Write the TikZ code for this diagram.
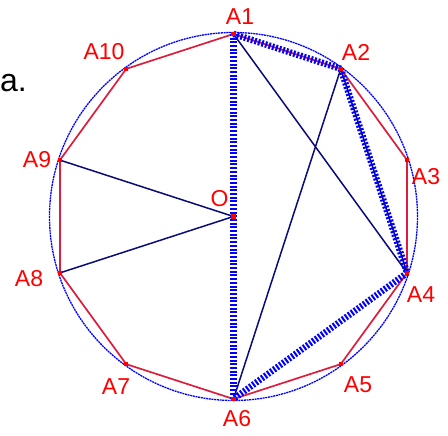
\documentclass[tikz,border=0pt]{standalone}
\usepackage{fontspec}
\setmainfont{Liberation Sans}
\usetikzlibrary{calc}
\definecolor{crim}{RGB}{220,30,60}
\definecolor{navyline}{RGB}{10,10,120}
\tikzstyle{circ} = [blue, line width=1.3pt, dash pattern=on 2pt off 0.7pt]
\tikzstyle{side} = [crim, line width=1.7pt]
\tikzstyle{chord} = [navyline, line width=1.5pt]
\tikzstyle{hatch} = [blue, line width=6.5pt, dash pattern=on 2pt off 1.7pt]
\tikzstyle{vert} = [fill=red, minimum size=4.5pt, inner sep=0pt]
\tikzstyle{lbl} = [red, font=\fontsize{23}{26}\selectfont, inner sep=0pt]

\begin{document}
\begin{tikzpicture}[x=1pt, y=1pt]
    \useasboundingbox (0,0) rectangle (448,436);
    \coordinate (O) at (233.5,219.5);

    % circle and decagon
    \draw[circ] (O) circle (184);
    \foreach \i in {1,...,10}
        \coordinate (A\i) at ($(O)+({90-36*(\i-1)}:182.5)$);
    \draw[side] (A1) -- (A2) -- (A3) -- (A4) -- (A5) -- (A6) -- (A7) -- (A8) -- (A9) -- (A10) -- cycle;

    % thin chords
    \draw[chord] (A1) -- (A4);
    \draw[chord] (A2) -- (A6);
    \draw[chord] (A2) -- (A4);
    \draw[chord] (A9) -- (O);
    \draw[chord] (A8) -- (O);

    % thick chords
    \draw[hatch] (A1) -- (A6);
    \draw[hatch] (A1) -- (A2);
    \draw[hatch] (A2) -- (A4);
    \draw[hatch] (A4) -- (A6);

    % points
    \foreach \i in {1,...,10}
        \node[vert] (P\i) at (A\i) {};
    \node[vert] (PO) at (O) {};

    % labels
    \node[lbl] (L1) at (240,419) {A1};
    \node[lbl] (L2) at (356,384) {A2};
    \node[lbl] (L3) at (426,259) {A3};
    \node[lbl] (L4) at (421,141) {A4};
    \node[lbl] (L5) at (358,51) {A5};
    \node[lbl] (L6) at (237,17) {A6};
    \node[lbl] (L7) at (116,49) {A7};
    \node[lbl] (L8) at (29,157) {A8};
    \node[lbl] (L9) at (37,276) {A9};
    \node[lbl] (L10) at (104,384) {A10};
    \node[lbl] (LO) at (219.5,237) {O};
    \node[font=\fontsize{32}{36}\selectfont, inner sep=0pt, anchor=base east] (tail) at (27,344) {a.};
\end{tikzpicture}
\end{document}
